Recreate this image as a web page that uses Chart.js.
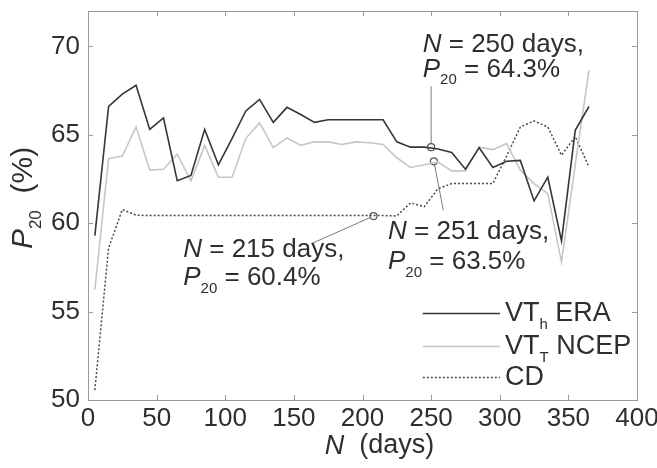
<!DOCTYPE html>
<html>
<head>
<meta charset="utf-8">
<script src="https://cdn.jsdelivr.net/npm/chart.js@4"></script>
<style>
  html, body { margin: 0; padding: 0; background: #fff; }
  #wrap { width: 657px; height: 468px; }
</style>
</head>
<body>
<div id="wrap"><canvas id="chart" width="657" height="468"></canvas></div>
<script>
// window length N (days)
const days = [5, 15, 25, 35, 45, 55, 65, 75, 85, 95, 105, 115, 125, 135, 145, 155, 165, 175, 185,
  195, 205, 215, 225, 235, 245, 255, 265, 275, 285, 295, 305, 315, 325, 335, 345, 355, 365];

// P20 (%) per method
const vtEra = [59.3, 66.6, 67.3, 67.8, 65.3, 65.95, 62.4, 62.7, 65.3, 63.3,
  64.8, 66.35, 67.0, 65.7, 66.55, 66.15, 65.7, 65.85, 65.85, 65.85,
  65.85, 65.85, 64.6, 64.3, 64.3, 64.2, 64.0, 63.05, 64.27, 63.15,
  63.5, 63.55, 61.26, 62.6, 59.0, 65.25, 66.6];
const vtNcep = [56.25, 63.65, 63.8, 65.45, 63.0, 63.05, 63.9, 62.4, 64.4, 62.6,
  62.6, 64.8, 65.67, 64.27, 64.82, 64.4, 64.6, 64.6, 64.45, 64.6,
  64.55, 64.45, 63.7, 63.15, 63.3, 63.45, 62.96, 62.96, 64.3, 64.16,
  64.5, 63.0, 62.24, 61.67, 57.8, 63.3, 68.64];
const cd = [50.56, 58.6, 60.77, 60.45, 60.43, 60.43, 60.43, 60.43, 60.43, 60.43,
  60.43, 60.43, 60.43, 60.43, 60.43, 60.43, 60.43, 60.43, 60.43, 60.43,
  60.43, 60.43, 60.41, 61.15, 60.93, 61.95, 62.24, 62.24, 62.24, 62.24,
  63.8, 65.44, 65.78, 65.44, 63.84, 64.9, 63.18];

// highlighted points
const markerDays = [250, 252, 208];
const markerValues = [64.3, 63.5, 60.4];

const xTicks = [0, 50, 100, 150, 200, 250, 300, 350, 400];
const yTicks = [50, 55, 60, 65, 70];

const FONT = '"Liberation Sans", Arial, sans-serif';
const TEXT = '#2e2e2e';

const toPoints = (xs, ys) => xs.map((x, i) => ({ x, y: ys[i] }));

// annotation boxes, anchored in data units
const notes = [
  { x: 243.9, y: [70.11, 68.7], n: '250', p: '64.3', from: [250, 67.74], to: [250, 64.3] },
  { x: 218.6, y: [59.51, 57.81], n: '251', p: '63.5', from: [258.9, 60.73], to: [252, 63.5] },
  { x: 69.4, y: [58.47, 56.89], n: '215', p: '60.4', from: [163.0, 58.85], to: [208, 60.4] }
];

function drawRich(ctx, parts, x, y, size) {
  let cx = x;
  parts.forEach(p => {
    const fs = p.sub ? Math.round(size * 0.56) : size;
    ctx.font = (p.i ? 'italic ' : '') + fs + 'px ' + FONT;
    ctx.textBaseline = 'middle';
    ctx.textAlign = 'left';
    ctx.fillText(p.t, cx, y + (p.sub ? size * 0.42 : 0));
    cx += ctx.measureText(p.t).width;
  });
  return cx - x;
}

function richWidth(ctx, parts, size) {
  let w = 0;
  parts.forEach(p => {
    const fs = p.sub ? Math.round(size * 0.56) : size;
    ctx.font = (p.i ? 'italic ' : '') + fs + 'px ' + FONT;
    w += ctx.measureText(p.t).width;
  });
  return w;
}

const decor = {
  id: 'decor',
  beforeDatasetsDraw(chart) {
    const { ctx, scales: { x, y } } = chart;
    ctx.save();
    ctx.strokeStyle = '#7a7a7a';
    ctx.lineWidth = 1;
    notes.forEach(n => {
      ctx.beginPath();
      ctx.moveTo(x.getPixelForValue(n.from[0]), y.getPixelForValue(n.from[1]));
      ctx.lineTo(x.getPixelForValue(n.to[0]), y.getPixelForValue(n.to[1]));
      ctx.stroke();
    });
    ctx.restore();
  },
  afterDraw(chart) {
    const { ctx, chartArea: a, scales: { x, y } } = chart;
    ctx.save();

    // frame + inward ticks on all sides
    ctx.strokeStyle = '#9a9a9a';
    ctx.lineWidth = 1;
    ctx.strokeRect(a.left + 0.5, a.top + 0.5, a.right - a.left, a.bottom - a.top);
    const tl = 5;
    ctx.beginPath();
    xTicks.forEach(v => {
      const px = Math.round(x.getPixelForValue(v)) + 0.5;
      ctx.moveTo(px, a.bottom); ctx.lineTo(px, a.bottom - tl);
      ctx.moveTo(px, a.top); ctx.lineTo(px, a.top + tl);
    });
    yTicks.forEach(v => {
      const py = Math.round(y.getPixelForValue(v)) + 0.5;
      ctx.moveTo(a.left, py); ctx.lineTo(a.left + tl, py);
      ctx.moveTo(a.right, py); ctx.lineTo(a.right - tl, py);
    });
    ctx.stroke();

    // annotations
    ctx.fillStyle = TEXT;
    notes.forEach(n => {
      const px = x.getPixelForValue(n.x);
      drawRich(ctx, [{ t: 'N', i: true }, { t: ' = ' + n.n + ' days,' }], px, y.getPixelForValue(n.y[0]), 26);
      drawRich(ctx, [{ t: 'P', i: true }, { t: '20', sub: true }, { t: ' = ' + n.p + '%' }], px, y.getPixelForValue(n.y[1]), 26);
    });

    // legend
    const legend = [
      { ds: 0, parts: [{ t: 'VT' }, { t: 'h', sub: true }, { t: ' ERA' }], y: 54.9 },
      { ds: 1, parts: [{ t: 'VT' }, { t: 'T', sub: true }, { t: ' NCEP' }], y: 53.07 },
      { ds: 2, parts: [{ t: 'CD' }], y: 51.28 }
    ];
    legend.forEach(l => {
      const d = chart.data.datasets[l.ds];
      const py = Math.round(y.getPixelForValue(l.y)) + 0.5;
      ctx.save();
      ctx.strokeStyle = d.borderColor;
      ctx.lineWidth = d.borderWidth;
      ctx.setLineDash(d.borderDash || []);
      ctx.beginPath();
      ctx.moveTo(x.getPixelForValue(243.9), py);
      ctx.lineTo(x.getPixelForValue(300.2), py);
      ctx.stroke();
      ctx.restore();
      ctx.fillStyle = TEXT;
      drawRich(ctx, l.parts, x.getPixelForValue(303.8), py, 27);
    });

    // axis titles
    const xt = [{ t: 'N', i: true }, { t: '  (days)' }];
    const xw = richWidth(ctx, xt, 27);
    drawRich(ctx, xt, (a.left + a.right) / 2 + 17 - xw / 2, 446, 27);

    const yt = [{ t: 'P', i: true }, { t: '20', sub: true }, { t: '  (%)' }];
    const yw = richWidth(ctx, yt, 30);
    ctx.translate(24, 198);
    ctx.rotate(-Math.PI / 2);
    drawRich(ctx, yt, -yw / 2, 0, 30);

    ctx.restore();
  }
};

new Chart(document.getElementById('chart'), {
  type: 'line',
  data: {
    datasets: [
      { label: 'VTh ERA', data: toPoints(days, vtEra), borderColor: '#363636', borderWidth: 1.6, pointRadius: 0, tension: 0 },
      { label: 'VTT NCEP', data: toPoints(days, vtNcep), borderColor: '#c6c6c6', borderWidth: 1.6, pointRadius: 0, tension: 0 },
      { label: 'CD', data: toPoints(days, cd), borderColor: '#4a4a4a', borderWidth: 1.5, borderDash: [2, 2], pointRadius: 0, tension: 0 },
      { label: 'marks', data: toPoints(markerDays, markerValues), showLine: false, pointRadius: 3.5,
        pointBackgroundColor: '#fff', pointBorderColor: '#555', pointBorderWidth: 1.2 }
    ]
  },
  options: {
    responsive: false,
    animation: false,
    layout: { padding: { top: 11, right: 20, left: 0, bottom: 0 } },
    plugins: { legend: { display: false }, tooltip: { enabled: false } },
    scales: {
      x: {
        type: 'linear', min: 0, max: 400,
        grid: { display: false }, border: { display: false },
        ticks: { stepSize: 50, color: TEXT, padding: -5, maxRotation: 0, font: { family: FONT, size: 26 } },
        afterFit: s => { s.height = 68; s.paddingLeft = 0; s.paddingRight = 0; }
      },
      y: {
        min: 50, max: 72,
        grid: { display: false }, border: { display: false },
        ticks: { stepSize: 5, includeBounds: false, color: TEXT, padding: 0, font: { family: FONT, size: 26 } },
        afterFit: s => { s.width = 88; s.paddingTop = 0; s.paddingBottom = 0; }
      }
    }
  },
  plugins: [decor]
});
</script>
</body>
</html>
